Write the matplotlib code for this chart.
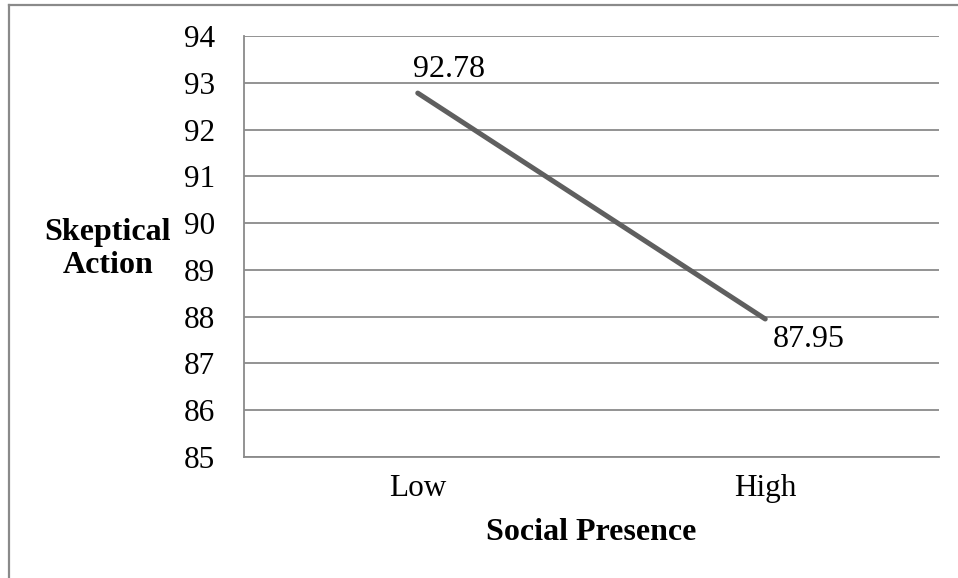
import matplotlib
matplotlib.use("Agg")
from matplotlib import pyplot as plt
from matplotlib.lines import Line2D

categories = ["Low", "High"]
values = [92.78, 87.95]
yticks = [85, 86, 87, 88, 89, 90, 91, 92, 93, 94]

plt.rcParams['font.family'] = ['Liberation Serif', 'DejaVu Serif']

fig = plt.figure(figsize=(9.58, 5.78), dpi=100)
ax = fig.add_axes([244 / 958, 1 - 457 / 578, 695 / 958, 421 / 578])

grey = "#8a8a8a"
x = [1, 2]
ax.plot(x, values, color="#5f5f5f", linewidth=3.6, solid_capstyle="round")

ax.set_xlim(0.5, 2.5)
ax.set_ylim(85, 94)
ax.set_yticks(yticks)
ax.set_xticks(x)
ax.set_xticklabels(categories)
ax.tick_params(length=0, labelsize=22.5)
ax.tick_params(axis="y", pad=21)
ax.tick_params(axis="x", pad=12)
ax.grid(axis="y", color=grey, linewidth=1.3)
ax.set_axisbelow(True)
for side in ["top", "right"]:
    ax.spines[side].set_visible(False)
for side in ["left", "bottom"]:
    ax.spines[side].set_color(grey)
    ax.spines[side].set_linewidth(1.3)

# data labels
ax.annotate(f"{values[0]:.2f}", (x[0], values[0]), xytext=(-5, 16),
            textcoords="offset pixels", ha="left", va="baseline", fontsize=23)
ax.annotate(f"{values[1]:.2f}", (x[1], values[1]), xytext=(7, -28),
            textcoords="offset pixels", ha="left", va="baseline", fontsize=23)

ax.set_xlabel("Social Presence", fontsize=23, fontweight="bold", labelpad=11)
fig.text(108 / 958, 1 - 249 / 578, "Skeptical\nAction", fontsize=23,
         fontweight="bold", ha="center", va="center", linespacing=1.17)

# outer frame (only left and top visible)
fig.add_artist(Line2D([9 / 958, 9 / 958], [0, 1 - 5 / 578], color=grey,
                      linewidth=1.6, transform=fig.transFigure))
fig.add_artist(Line2D([9 / 958, 1], [1 - 5 / 578, 1 - 5 / 578], color=grey,
                      linewidth=1.6, transform=fig.transFigure))

fig.savefig("out.png", dpi=100)
